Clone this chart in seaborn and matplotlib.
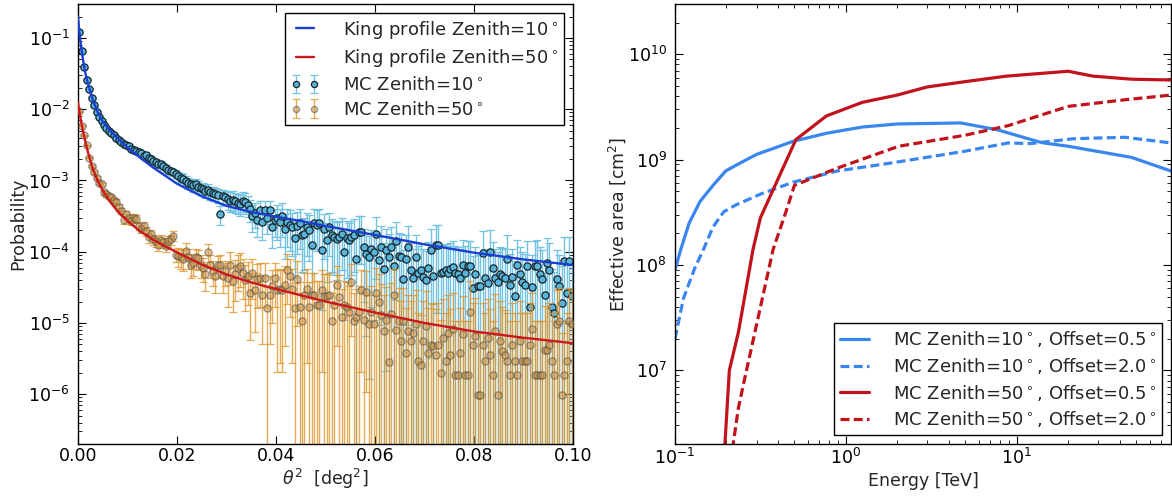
import numpy as np
import matplotlib
matplotlib.use('Agg')
import matplotlib.pyplot as plt
import seaborn as sns

# ---------------- left panel: theta^2 distributions ----------------
# MC histograms: 200 bins of 0.0005 deg^2 between 0 and 0.1
theta2_edges = np.linspace(0.0, 0.1, 201)
theta2_centers = 0.5 * (theta2_edges[:-1] + theta2_edges[1:])

mc_z10 = [
    0.12, 0.065, 0.039, 0.026, 0.0194, 0.0145, 0.0113, 0.0091, 0.0079, 0.0069,
    0.0061, 0.0054, 0.0050, 0.0047, 0.0044, 0.0040, 0.0037, 0.0035, 0.0033, 0.0031,
    0.0030, 0.0028, 0.0027, 0.0026, 0.0025, 0.0024, 0.0022, 0.0023, 0.0021, 0.0020,
    0.0019, 0.0018, 0.0017, 0.0017, 0.0016, 0.0015, 0.0014, 0.00135, 0.0013, 0.00125,
    1.15e-3, 1.1e-3, 1.05e-3, 9.8e-4, 9.2e-4, 9.0e-4, 8.6e-4, 8.8e-4, 8.2e-4, 7.8e-4,
    7.6e-4, 7.2e-4, 7.4e-4, 6.8e-4, 6.6e-4, 6.5e-4, 6.2e-4, 3.4e-4, 6.0e-4, 5.8e-4,
    5.5e-4, 5.2e-4, 5.4e-4, 5.1e-4, 4.9e-4, 4.7e-4, 5.2e-4, 5.0e-4, 4.6e-4, 4.0e-4,
    3.2e-4, 3.5e-4, 2.8e-4, 3.8e-4, 2.6e-4, 3.8e-4, 3.0e-4, 3.8e-4, 2.2e-4, 2.8e-4,
    3.0e-4, 2.6e-4, 3.2e-4, 2.1e-4, 2.6e-4, 2.4e-4, 2.2e-4, 1.55e-4, 2.3e-4, 2.5e-4,
    1.7e-4, 1.75e-4, 2.2e-4, 2.0e-4, 1.26e-4, 2.5e-4, 2.4e-4, 2.5e-4, 1.07e-4, 2.1e-4,
    1.45e-4, 2.2e-4, 1.7e-4, 1.6e-4, 1.5e-4, 1.6e-4, 1.75e-4, 1.0e-4, 1.55e-4, 1.45e-4,
    1.6e-4, 1.7e-4, 7.8e-5, 1.9e-4, 1.9e-4, 1.15e-4, 9.3e-5, 8.3e-5, 1.1e-4, 1.0e-4,
    1.75e-4, 7.6e-5, 1.18e-4, 5.8e-5, 1.05e-4, 8.5e-5, 1.15e-4, 6.3e-5, 1.4e-4, 8.8e-5,
    8.5e-5, 4.2e-5, 8.0e-5, 1.18e-4, 5.6e-5, 4.3e-5, 8.3e-5, 5.0e-5, 5.5e-5, 4.4e-5,
    4.0e-5, 6.0e-5, 1.07e-4, 4.5e-5, 1.26e-4, 1.26e-4, 5.0e-5, 5.2e-5, 5.5e-5, 5.0e-5,
    5.8e-5, 6.2e-5, 5.0e-5, 4.8e-5, 4.3e-5, 6.5e-5, 5.0e-5, 6.3e-5, 6.3e-5, 3.1e-5,
    4.8e-5, 3.3e-5, 3.3e-5, 9.5e-5, 4.3e-5, 3.6e-5, 1.0e-4, 6.0e-5, 4.3e-5, 3.7e-5,
    4.8e-5, 4.6e-5, 4.3e-5, 8.0e-5, 3.4e-5, 4.4e-5, 2.4e-5, 6.5e-5, 4.8e-5, 3.7e-5,
    3.4e-5, 6.3e-5, 1.7e-5, 3.2e-5, 6.3e-5, 6.4e-5, 4.8e-5, 4.2e-5, 2.5e-5, 7.0e-5,
    5.6e-5, 1.7e-5, 1.4e-5, 4.1e-5, 3.3e-5, 1.9e-5, 7.3e-5, 2.6e-5, 7.5e-5, 2.4e-5,
]
# relative errors (fraction of the value)
mc_z10_relerr = [
    0.011, 0.015, 0.02, 0.024, 0.028, 0.032, 0.036, 0.041, 0.044, 0.047,
    0.05, 0.053, 0.055, 0.056, 0.058, 0.061, 0.064, 0.065, 0.067, 0.07,
    0.082, 0.085, 0.086, 0.088, 0.089, 0.091, 0.095, 0.093, 0.098, 0.10,
    0.10, 0.105, 0.11, 0.11, 0.11, 0.115, 0.12, 0.12, 0.124, 0.126,
    0.16, 0.165, 0.17, 0.175, 0.18, 0.18, 0.19, 0.185, 0.19, 0.2,
    0.2, 0.2, 0.2, 0.21, 0.21, 0.21, 0.22, 0.3, 0.22, 0.23,
    0.30, 0.31, 0.30, 0.31, 0.32, 0.33, 0.31, 0.32, 0.33, 0.35,
    0.4, 0.38, 0.42, 0.36, 0.44, 0.36, 0.41, 0.36, 0.48, 0.42,
    0.52, 0.55, 0.5, 0.62, 0.55, 0.58, 0.6, 0.72, 0.59, 0.57,
    0.69, 0.68, 0.6, 0.63, 0.8, 0.57, 0.58, 0.57, 0.86, 0.62,
    0.74, 0.6, 0.69, 0.71, 0.73, 0.71, 0.68, 0.89, 0.72, 0.74,
    0.71, 0.69, 1.01, 0.65, 0.65, 0.83, 0.93, 0.98, 0.85, 0.89,
    0.76, 1.15, 0.92, 1.31, 0.98, 1.08, 0.93, 1.26, 0.85, 1.07,
    1.08, 1.54, 1.12, 0.92, 1.34, 1.52, 1.1, 1.41, 1.35, 1.5,
    1.58, 1.29, 0.97, 1.49, 0.89, 0.89, 1.41, 1.39, 1.35, 1.41,
    1.31, 1.27, 1.41, 1.44, 1.52, 1.24, 1.41, 1.26, 1.26, 1.8,
    1.44, 1.74, 1.74, 1.03, 1.52, 1.67, 1.0, 1.29, 1.52, 1.64,
    1.44, 1.47, 1.52, 1.12, 1.71, 1.5, 2.04, 1.24, 1.44, 1.64,
    1.71, 1.26, 2.4, 1.77, 1.26, 1.25, 1.44, 1.54, 2.0, 1.2,
    1.34, 2.4, 2.7, 1.56, 1.74, 2.3, 1.17, 1.96, 1.15, 2.04,
]

mc_z50 = [
    9.3e-3, 5.9e-3, 4.3e-3, 3.1e-3, 2.1e-3, 1.6e-3, 1.3e-3, 1.1e-3, 9.3e-4, 8.9e-4,
    6.8e-4, 6.4e-4, 6.0e-4, 5.8e-4, 5.3e-4, 5.0e-4, 4.2e-4, 3.7e-4, 2.8e-4, 3.4e-4,
    3.0e-4, 2.7e-4, 3.0e-4, 2.9e-4, 2.3e-4, 2.1e-4, 2.3e-4, 1.95e-4, 1.6e-4, 1.75e-4,
    1.5e-4, 1.4e-4, 1.26e-4, 1.45e-4, 1.35e-4, 1.2e-4, 1.4e-4, 1.5e-4, 1.66e-4, 9.1e-5,
    8.6e-5, 8.3e-5, 7.9e-5, 1.03e-4, 8.3e-5, 6.6e-5, 7.0e-5, 8.3e-5, 8.1e-5, 6.6e-5,
    5.9e-5, 4.8e-5, 1.0e-4, 6.6e-5, 5.4e-5, 4.5e-5, 6.5e-5, 6.6e-5, 4.5e-5, 5.4e-5,
    4.3e-5, 6.6e-5, 3.9e-5, 4.8e-5, 5.9e-5, 6.3e-5, 5.0e-5, 4.0e-5, 4.5e-5, 2.6e-5,
    5.0e-5, 2.9e-5, 4.2e-5, 4.3e-5, 2.5e-5, 4.3e-5, 1.6e-5, 2.5e-5, 3.3e-5, 4.3e-5,
    2.9e-5, 3.0e-5, 2.9e-5, 3.4e-5, 5.6e-5, 4.6e-5, 3.0e-5, 1.6e-5, 4.1e-5, 1.7e-5,
    1.05e-5, 2.5e-5, 3.0e-5, 1.7e-5, 2.5e-5, 2.5e-5, 1.8e-5, 1.8e-5, 2.9e-5, 2.4e-5,
    2.4e-5, 2.5e-5, 1.05e-5, 1.8e-5, 3.4e-5, 2.3e-5, 1.23e-5, 1.8e-5, 1.7e-5, 1.44e-5,
    3.7e-5, 1.05e-5, 1.23e-5, 1.44e-5, 2.9e-5, 1.1e-5, 2.7e-5, 9.6e-6, 1.44e-5, 9.6e-6,
    2.6e-5, 2.0e-5, 1.3e-5, 7.6e-6, 1.1e-5, 2.8e-6, 1.35e-5, 2.5e-5, 8.0e-6, 1.05e-5,
    5.5e-6, 1.05e-5, 3.8e-6, 7.6e-6, 5.5e-6, 7.3e-6, 9.6e-6, 2.9e-6, 2.6e-6, 5.5e-6,
    9.0e-6, 3.8e-6, 4.9e-6, 4.7e-6, 3.6e-6, 4.9e-6, 2.0e-6, 6.2e-6, 2.9e-6, 7.3e-6,
    3.6e-6, 8.2e-6, 1.87e-6, 1.87e-6, 3.8e-6, 7.0e-6, 1.87e-6, 1.87e-6, 1.44e-5, 4.9e-6,
    6.5e-6, 9.6e-7, 9.6e-7, 4.9e-6, 2.9e-6, 6.2e-6, 3.6e-6, 1.87e-6, 7.7e-6, 9.6e-7,
    5.5e-6, 4.0e-6, 3.5e-6, 2.9e-6, 1.87e-6, 4.9e-6, 2.9e-6, 1.87e-6, 5.5e-6, 2.9e-6,
    2.9e-6, 2.9e-6, 4.9e-6, 8.2e-6, 1.87e-6, 1.87e-6, 1.87e-6, 1.87e-6, 4.2e-6, 4.2e-6,
    4.9e-6, 2.9e-6, 1.87e-6, 9.6e-6, 1.05e-5, 9.6e-7, 1.87e-6, 2.9e-6, 1.05e-5, 9.6e-6,
]
mc_z50_relerr = [
    0.015, 0.018, 0.022, 0.025, 0.031, 0.035, 0.039, 0.043, 0.046, 0.047,
    0.077, 0.079, 0.082, 0.083, 0.087, 0.089, 0.098, 0.10, 0.12, 0.11,
    0.115, 0.12, 0.115, 0.12, 0.13, 0.14, 0.13, 0.14, 0.16, 0.15,
    0.16, 0.17, 0.18, 0.17, 0.17, 0.18, 0.17, 0.16, 0.16, 0.21,
    0.30, 0.31, 0.32, 0.28, 0.31, 0.35, 0.34, 0.31, 0.31, 0.35,
    0.37, 0.41, 0.28, 0.35, 0.38, 0.42, 0.35, 0.35, 0.42, 0.38,
    0.61, 0.49, 0.64, 0.58, 0.52, 0.5, 0.57, 0.63, 0.6, 0.78,
    0.57, 0.74, 0.62, 0.61, 0.8, 0.61, 1.0, 0.8, 0.7, 0.61,
    0.93, 0.91, 0.93, 0.86, 0.67, 0.74, 0.91, 1.25, 0.78, 1.21,
    1.54, 1.0, 0.91, 1.21, 1.0, 1.0, 1.18, 1.18, 0.93, 1.02,
    1.02, 1.0, 1.54, 1.18, 0.86, 1.04, 1.43, 1.18, 1.21, 1.32,
    0.82, 1.54, 1.43, 1.32, 0.93, 1.51, 0.96, 1.61, 1.32, 1.61,
    1.24, 1.41, 1.75, 2.29, 1.91, 3.78, 1.72, 1.26, 2.24, 1.95,
    2.7, 1.95, 3.24, 2.29, 2.7, 2.34, 2.04, 3.71, 3.92, 2.7,
    2.11, 3.24, 2.86, 2.92, 3.33, 2.86, 4.47, 2.54, 3.71, 2.34,
    3.33, 2.21, 4.62, 4.62, 3.24, 2.39, 4.62, 4.62, 1.67, 2.86,
    2.48, 6.45, 6.45, 2.86, 3.71, 2.54, 3.33, 4.62, 2.28, 6.45,
    2.7, 3.16, 3.38, 3.71, 4.62, 2.86, 3.71, 4.62, 2.7, 3.71,
    3.71, 3.71, 2.86, 2.21, 4.62, 4.62, 4.62, 4.62, 3.09, 3.09,
    2.86, 3.71, 4.62, 2.04, 1.95, 6.45, 4.62, 3.71, 1.95, 2.04,
]

# King profile fits
king_theta2 = [0.0, 0.00025, 0.0005, 0.001, 0.0015, 0.002, 0.003, 0.004, 0.005,
               0.0065, 0.008, 0.010, 0.0125, 0.015, 0.0175, 0.020, 0.025, 0.030,
               0.035, 0.040, 0.045, 0.050, 0.060, 0.070, 0.080, 0.090, 0.100]
king_z10 = [0.20, 0.125, 0.088, 0.050, 0.032, 0.023, 0.0135, 0.0090, 0.0067,
            0.0050, 0.0039, 0.0029, 0.0021, 0.00155, 0.00118, 0.00090, 0.00060, 0.00044,
            0.00036, 0.00031, 0.00027, 0.00023, 0.000172, 0.000127, 0.000097, 0.000078, 0.000065]
king_z50 = [1.25e-2, 9.5e-3, 7.5e-3, 5.0e-3, 3.5e-3, 2.5e-3, 1.45e-3, 9.8e-4, 7.2e-4,
            5.0e-4, 3.7e-4, 2.7e-4, 1.95e-4, 1.5e-4, 1.2e-4, 9.8e-5, 6.6e-5, 4.8e-5,
            3.7e-5, 3.0e-5, 2.45e-5, 2.0e-5, 1.4e-5, 1.0e-5, 7.6e-6, 6.2e-6, 5.2e-6]

# ---------------- right panel: effective areas ----------------
energy_z10_off05 = [0.1, 0.108, 0.121, 0.14, 0.167, 0.198, 0.226, 0.30, 0.49, 0.77,
                    1.25, 2.0, 4.7, 7.7, 14, 20, 47, 80]
aeff_z10_off05 = [9.0e7, 1.4e8, 2.5e8, 4.0e8, 5.7e8, 7.8e8, 8.8e8, 1.12e9, 1.49e9, 1.78e9,
                  2.04e9, 2.18e9, 2.23e9, 1.92e9, 1.45e9, 1.34e9, 1.05e9, 7.8e8]

energy_z10_off20 = [0.1, 0.112, 0.13, 0.148, 0.167, 0.193, 0.226, 0.316, 0.49, 0.89,
                    1.85, 4.95, 8.9, 12, 21.6, 43, 80]
aeff_z10_off20 = [2.0e7, 4.8e7, 9.2e7, 1.45e8, 2.3e8, 3.2e8, 3.7e8, 4.7e8, 6.1e8, 7.8e8,
                  9.3e8, 1.2e9, 1.44e9, 1.42e9, 1.58e9, 1.63e9, 1.44e9]

energy_z50_off05 = [0.19, 0.196, 0.208, 0.235, 0.286, 0.316, 0.51, 0.77, 1.25, 2.0,
                    3.0, 5.0, 8.7, 20, 28, 47, 80]
aeff_z50_off05 = [1.0e6, 2.0e6, 1.0e7, 2.3e7, 1.4e8, 2.8e8, 1.55e9, 2.6e9, 3.5e9, 4.1e9,
                  4.9e9, 5.5e9, 6.2e9, 6.9e9, 6.2e9, 5.8e9, 5.7e9]

energy_z50_off20 = [0.215, 0.219, 0.235, 0.253, 0.30, 0.375, 0.446, 0.50, 0.89, 2.04,
                    4.95, 8.9, 20, 43, 80]
aeff_z50_off20 = [1.0e6, 2.0e6, 4.4e6, 7.7e6, 2.7e7, 1.4e8, 3.2e8, 5.7e8, 8.3e8, 1.34e9,
                  1.7e9, 2.1e9, 3.2e9, 3.7e9, 4.1e9]

# ---------------- style ----------------
sns.set_style("ticks")
plt.rcParams['font.family'] = ['DejaVu Sans']
plt.rcParams.update({
    'xtick.direction': 'in', 'ytick.direction': 'in',
    'xtick.top': True, 'ytick.right': True,
    'xtick.major.size': 5.5, 'ytick.major.size': 5.5,
    'xtick.minor.size': 3, 'ytick.minor.size': 3,
    'xtick.color': 'black', 'ytick.color': 'black',
    'axes.edgecolor': 'black', 'axes.linewidth': 1.0,
    'font.size': 12.5,
})
FS = 12.5
LEG_FS = 13
DASH = (0, (2.8, 1.35))

fig = plt.figure(figsize=(11.72, 4.96), dpi=100)
ax1 = fig.add_axes([78 / 1172, 52 / 496, 495 / 1172, 440 / 496])
ax2 = fig.add_axes([675 / 1172, 52 / 496, 496 / 1172, 440 / 496])

leg_kw = dict(fontsize=LEG_FS, frameon=True, fancybox=False, edgecolor='black',
              framealpha=1, handlelength=1.6, handletextpad=1.3,
              borderpad=0.32, labelspacing=0.37)

# ---- left ----
ax1.set_yscale('log')
sns.lineplot(x=king_theta2, y=king_z10, ax=ax1, color='#1a3fd2', lw=1.7,
             label=r'King profile Zenith=10$^\circ$', zorder=4)
sns.lineplot(x=king_theta2, y=king_z50, ax=ax1, color='#cc1818', lw=1.7,
             label=r'King profile Zenith=50$^\circ$', zorder=4)

p10 = np.array(mc_z10)
p50 = np.array(mc_z50)
ax1.errorbar(theta2_centers, p10, yerr=p10 * np.array(mc_z10_relerr), fmt='o',
             ms=5.2, mfc='#58b4d8', mec='#16242c', mew=0.9,
             ecolor='#72c2e2', elinewidth=1.0, capsize=2.6, capthick=1.0,
             label=r'MC Zenith=10$^\circ$', zorder=2)
eb50 = ax1.errorbar(theta2_centers, p50, yerr=p50 * np.array(mc_z50_relerr), fmt='o',
                    ms=5.2, mfc='#cc954a', mec='#4a4a4a', mew=0.9,
                    ecolor='#e0962a', elinewidth=1.0, capsize=2.6, capthick=1.0,
                    label=r'MC Zenith=50$^\circ$', zorder=2.5)
eb50.lines[0].set_alpha(0.55)
for art in list(eb50.lines[1]) + list(eb50.lines[2]):
    art.set_alpha(0.8)

ax1.set_xlim(0, 0.1)
ax1.set_ylim(2e-7, 0.3)
ax1.set_yticks([1e-6, 1e-5, 1e-4, 1e-3, 1e-2, 1e-1])
ax1.set_xticks([0.0, 0.02, 0.04, 0.06, 0.08, 0.10])
ax1.set_xticklabels(['0.00', '0.02', '0.04', '0.06', '0.08', '0.10'])
ax1.set_xlabel(r'$\theta^2$  [deg$^2$]', fontsize=FS, labelpad=1)
ax1.set_ylabel('Probability', fontsize=FS, labelpad=1)
ax1.legend(loc='upper right', numpoints=2, markerscale=0.85, **leg_kw)

# ---- right ----
sns.lineplot(x=energy_z10_off05, y=aeff_z10_off05, ax=ax2, color='#3a86ef', lw=2.3,
             label=r'MC Zenith=10$^\circ$, Offset=0.5$^\circ$')
sns.lineplot(x=energy_z10_off20, y=aeff_z10_off20, ax=ax2, color='#3a86ef', lw=2.3,
             linestyle=DASH, label=r'MC Zenith=10$^\circ$, Offset=2.0$^\circ$')
sns.lineplot(x=energy_z50_off05, y=aeff_z50_off05, ax=ax2, color='#c0131b', lw=2.3,
             label=r'MC Zenith=50$^\circ$, Offset=0.5$^\circ$')
sns.lineplot(x=energy_z50_off20, y=aeff_z50_off20, ax=ax2, color='#c0131b', lw=2.3,
             linestyle=DASH, label=r'MC Zenith=50$^\circ$, Offset=2.0$^\circ$')
ax2.set_xscale('log')
ax2.set_yscale('log')
ax2.set_xlim(0.1, 80)
ax2.set_ylim(2e6, 3e10)
ax2.set_xticks([0.1, 1, 10])
ax2.set_yticks([1e7, 1e8, 1e9, 1e10])
ax2.set_xlabel('Energy [TeV]', fontsize=FS, labelpad=3)
ax2.set_ylabel(r'Effective area [cm$^2$]', fontsize=FS, labelpad=0)
ax2.legend(loc='lower right', **leg_kw)

for ax in (ax1, ax2):
    ax.tick_params(which='both', direction='in', top=True, right=True, labelsize=FS)
    ax.tick_params(axis='x', which='major', pad=2.5)
    ax.tick_params(axis='y', which='major', pad=6)
    for s in ax.spines.values():
        s.set_color('black')
        s.set_linewidth(1.0)

fig.savefig('out.png', dpi=100)
